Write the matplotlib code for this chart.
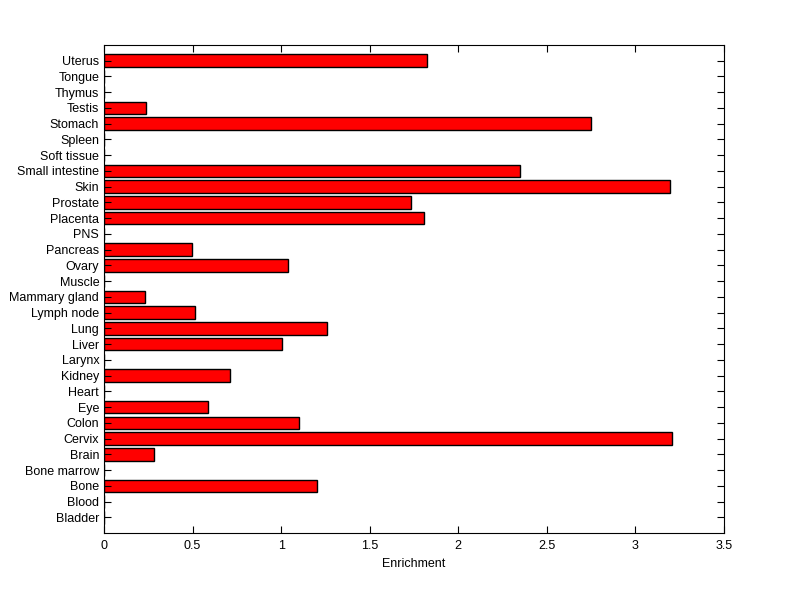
import matplotlib
matplotlib.use("Agg")
import matplotlib.pyplot as plt
import numpy as np

# tissues listed bottom -> top
tissues = [
    "Bladder", "Blood", "Bone", "Bone marrow", "Brain", "Cervix", "Colon", "Eye",
    "Heart", "Kidney", "Larynx", "Liver", "Lung", "Lymph node", "Mammary gland",
    "Muscle", "Ovary", "Pancreas", "PNS", "Placenta", "Prostate", "Skin",
    "Small intestine", "Soft tissue", "Spleen", "Stomach", "Testis", "Thymus",
    "Tongue", "Uterus",
]
enrichment = [
    0.0, 0.0, 1.205, 0.0, 0.282, 3.207, 1.101, 0.587,
    0.0, 0.711, 0.0, 1.007, 1.261, 0.514, 0.234,
    0.0, 1.04, 0.497, 0.0, 1.807, 1.735, 3.196,
    2.349, 0.0, 0.0, 2.750, 0.237, 0.0,
    0.0, 1.826,
]
x_ticks = [0, 0.5, 1, 1.5, 2, 2.5, 3, 3.5]

plt.rcParams["font.family"] = ["Liberation Sans", "DejaVu Sans"]

fig = plt.figure(figsize=(8.0, 5.99), dpi=100)
ax = fig.add_axes([0.13, 0.110, 0.775, 0.815])

pos = np.arange(1, len(tissues) + 1)
ax.barh(pos, enrichment, height=0.8, color="#ff0000", edgecolor="black", linewidth=1.0)

ax.set_xlim(0, 3.5)
ax.set_ylim(0, len(tissues) + 1)
ax.set_xticks(x_ticks)
ax.set_xticklabels(["0", "0.5", "1", "1.5", "2", "2.5", "3", "3.5"])
ax.set_yticks(pos)
ax.set_yticklabels(tissues)
ax.tick_params(direction="in", top=True, right=True, labelsize=9, length=5, width=0.8)
ax.tick_params(axis="x", pad=5)
ax.set_xlabel("Enrichment", fontsize=9, labelpad=4)
for s in ax.spines.values():
    s.set_linewidth(0.8)

fig.savefig("out.png", dpi=100)
